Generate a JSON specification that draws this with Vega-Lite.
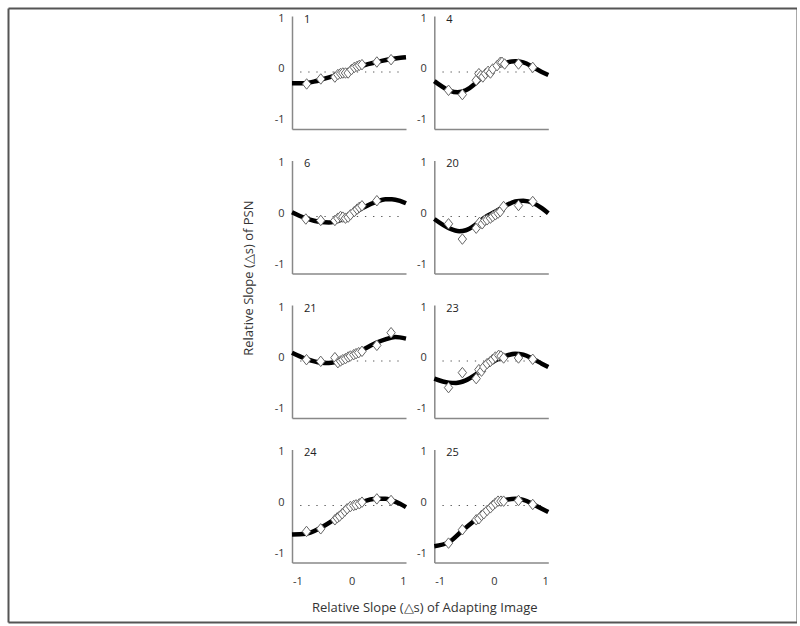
{
  "$schema": "https://vega.github.io/schema/vega-lite/v6.json",
  "padding": {"left": 5, "top": 5, "right": 0, "bottom": 0},
  "background": "white",
  "config": {
    "view": {"stroke": null},
    "font": "Open Sans",
    "axis": {"grid": false, "ticks": false, "domainColor": "#888", "domainWidth": 1.5, "labelFont": "Open Sans", "labelFontSize": 11, "labelColor": "#333", "labelExpr": "toString(datum.value)"},
    "axisX": {"labelPadding": 13},
    "axisY": {"labelPadding": 8, "labelOffset": -3},
    "title": {"font": "Open Sans", "fontSize": 13, "fontWeight": "normal", "color": "#333"}
  },
  "bounds": "flush",
  "spacing": 283,
  "hconcat": [
    {
      "width": 1, "height": 1,
      "data": {"values": [{}]},
      "layer": [
        {"mark": {"type": "point", "opacity": 0}, "encoding": {
          "x": {"datum": 0, "type": "quantitative", "scale": {"domain": [0, 1], "range": [0, 789]}, "axis": {"orient": "bottom", "offset": 613, "labels": false, "ticks": false, "title": null, "domainColor": "#555", "domainWidth": 2}},
          "y": {"datum": 0, "type": "quantitative", "scale": {"domain": [0, 1], "range": [614, 0]}, "axis": {"orient": "left", "offset": 0, "labels": false, "ticks": false, "title": null, "domainColor": "#555", "domainWidth": 2}}}},
        {"mark": {"type": "point", "opacity": 0}, "encoding": {
          "x": {"datum": 0, "type": "quantitative", "scale": {"domain": [0, 1], "range": [0, 789]}, "axis": {"orient": "top", "offset": 0, "labels": false, "ticks": false, "title": null, "domainColor": "#555", "domainWidth": 2}},
          "y": {"datum": 0, "type": "quantitative", "scale": {"domain": [0, 1], "range": [614, 0]}, "axis": {"orient": "right", "offset": 788, "labels": false, "ticks": false, "title": null, "domainColor": "#555", "domainWidth": 2}}}}
      ],
      "resolve": {"scale": {"x": "independent", "y": "independent"}, "axis": {"x": "independent", "y": "independent"}}
    },
    {
      "title": {"text": "Relative Slope (△s) of PSN", "orient": "left", "anchor": "middle", "offset": 18, "dx": 32},
      "spacing": 0,
      "vconcat": [
        {"width": 1, "height": 1, "data": {"values": [{}]}, "mark": {"type": "point", "opacity": 0}, "encoding": {}},
        {
          "data": {"values": [
            {"p":1,"t":"l"},{"p":4,"t":"l"},{"p":6,"t":"l"},{"p":20,"t":"l"},{"p":21,"t":"l"},{"p":23,"t":"l"},{"p":24,"t":"l"},{"p":25,"t":"l"},
            {"p":1,"t":"c","x":-1.1,"y":-0.22},{"p":1,"t":"c","x":-0.9,"y":-0.22},{"p":1,"t":"c","x":-0.7,"y":-0.19},{"p":1,"t":"c","x":-0.5,"y":-0.13},{"p":1,"t":"c","x":-0.3,"y":-0.065},{"p":1,"t":"c","x":-0.1,"y":0.015},{"p":1,"t":"c","x":0.1,"y":0.09},{"p":1,"t":"c","x":0.3,"y":0.155},{"p":1,"t":"c","x":0.5,"y":0.205},{"p":1,"t":"c","x":0.7,"y":0.25},{"p":1,"t":"c","x":0.9,"y":0.28},{"p":1,"t":"c","x":1.0,"y":0.29},
            {"p":4,"t":"c","x":-1.1,"y":-0.18},{"p":4,"t":"c","x":-0.83,"y":-0.36},{"p":4,"t":"c","x":-0.67,"y":-0.4},{"p":4,"t":"c","x":-0.52,"y":-0.36},{"p":4,"t":"c","x":-0.34,"y":-0.22},{"p":4,"t":"c","x":-0.16,"y":-0.03},{"p":4,"t":"c","x":0.03,"y":0.09},{"p":4,"t":"c","x":0.21,"y":0.18},{"p":4,"t":"c","x":0.39,"y":0.21},{"p":4,"t":"c","x":0.54,"y":0.19},{"p":4,"t":"c","x":0.73,"y":0.09},{"p":4,"t":"c","x":0.88,"y":0.0},{"p":4,"t":"c","x":1.0,"y":-0.06},
            {"p":6,"t":"c","x":-1.1,"y":0.085},{"p":6,"t":"c","x":-0.85,"y":-0.033},{"p":6,"t":"c","x":-0.57,"y":-0.11},{"p":6,"t":"c","x":-0.42,"y":-0.118},{"p":6,"t":"c","x":-0.3,"y":-0.098},{"p":6,"t":"c","x":-0.05,"y":0.0},{"p":6,"t":"c","x":0.19,"y":0.163},{"p":6,"t":"c","x":0.46,"y":0.294},{"p":6,"t":"c","x":0.62,"y":0.34},{"p":6,"t":"c","x":0.74,"y":0.34},{"p":6,"t":"c","x":0.89,"y":0.307},{"p":6,"t":"c","x":1.0,"y":0.26},
            {"p":20,"t":"c","x":-1.1,"y":-0.05},{"p":20,"t":"c","x":-0.83,"y":-0.23},{"p":20,"t":"c","x":-0.64,"y":-0.29},{"p":20,"t":"c","x":-0.52,"y":-0.27},{"p":20,"t":"c","x":-0.34,"y":-0.16},{"p":20,"t":"c","x":-0.16,"y":-0.013},{"p":20,"t":"c","x":0.03,"y":0.098},{"p":20,"t":"c","x":0.21,"y":0.21},{"p":20,"t":"c","x":0.39,"y":0.294},{"p":20,"t":"c","x":0.54,"y":0.31},{"p":20,"t":"c","x":0.73,"y":0.26},{"p":20,"t":"c","x":0.88,"y":0.163},{"p":20,"t":"c","x":1.0,"y":0.065},
            {"p":21,"t":"c","x":-1.1,"y":0.163},{"p":21,"t":"c","x":-0.85,"y":0.046},{"p":21,"t":"c","x":-0.57,"y":-0.033},{"p":21,"t":"c","x":-0.42,"y":-0.04},{"p":21,"t":"c","x":-0.3,"y":-0.02},{"p":21,"t":"c","x":-0.05,"y":0.059},{"p":21,"t":"c","x":0.19,"y":0.21},{"p":21,"t":"c","x":0.46,"y":0.36},{"p":21,"t":"c","x":0.62,"y":0.425},{"p":21,"t":"c","x":0.8,"y":0.47},{"p":21,"t":"c","x":1.0,"y":0.44},
            {"p":23,"t":"c","x":-1.1,"y":-0.346},{"p":23,"t":"c","x":-0.83,"y":-0.425},{"p":23,"t":"c","x":-0.7,"y":-0.43},{"p":23,"t":"c","x":-0.52,"y":-0.38},{"p":23,"t":"c","x":-0.34,"y":-0.268},{"p":23,"t":"c","x":-0.16,"y":-0.118},{"p":23,"t":"c","x":0.03,"y":0.013},{"p":23,"t":"c","x":0.21,"y":0.098},{"p":23,"t":"c","x":0.39,"y":0.144},{"p":23,"t":"c","x":0.54,"y":0.124},{"p":23,"t":"c","x":0.73,"y":0.033},{"p":23,"t":"c","x":0.88,"y":-0.052},{"p":23,"t":"c","x":1.0,"y":-0.118},
            {"p":24,"t":"c","x":-1.1,"y":-0.569},{"p":24,"t":"c","x":-0.85,"y":-0.556},{"p":24,"t":"c","x":-0.57,"y":-0.438},{"p":24,"t":"c","x":-0.3,"y":-0.26},{"p":24,"t":"c","x":-0.05,"y":-0.06},{"p":24,"t":"c","x":0.19,"y":0.065},{"p":24,"t":"c","x":0.46,"y":0.13},{"p":24,"t":"c","x":0.62,"y":0.13},{"p":24,"t":"c","x":0.74,"y":0.098},{"p":24,"t":"c","x":0.89,"y":0.033},{"p":24,"t":"c","x":1.0,"y":-0.033},
            {"p":25,"t":"c","x":-1.1,"y":-0.8},{"p":25,"t":"c","x":-0.83,"y":-0.72},{"p":25,"t":"c","x":-0.58,"y":-0.49},{"p":25,"t":"c","x":-0.34,"y":-0.28},{"p":25,"t":"c","x":-0.16,"y":-0.13},{"p":25,"t":"c","x":0.03,"y":0.02},{"p":25,"t":"c","x":0.21,"y":0.11},{"p":25,"t":"c","x":0.39,"y":0.13},{"p":25,"t":"c","x":0.54,"y":0.11},{"p":25,"t":"c","x":0.73,"y":0.02},{"p":25,"t":"c","x":0.88,"y":-0.065},{"p":25,"t":"c","x":1.0,"y":-0.13},
            {"p":1,"t":"s","x":-0.83,"y":-0.235},{"p":1,"t":"s","x":-0.57,"y":-0.137},{"p":1,"t":"s","x":-0.31,"y":-0.1},{"p":1,"t":"s","x":-0.255,"y":-0.05},{"p":1,"t":"s","x":-0.206,"y":-0.03},{"p":1,"t":"s","x":-0.164,"y":-0.02},{"p":1,"t":"s","x":-0.115,"y":-0.02},{"p":1,"t":"s","x":-0.066,"y":-0.02},{"p":1,"t":"s","x":-0.005,"y":0.046},{"p":1,"t":"s","x":0.049,"y":0.09},{"p":1,"t":"s","x":0.098,"y":0.11},{"p":1,"t":"s","x":0.14,"y":0.13},{"p":1,"t":"s","x":0.189,"y":0.144},{"p":1,"t":"s","x":0.463,"y":0.196},{"p":1,"t":"s","x":0.725,"y":0.242},
            {"p":4,"t":"s","x":-0.838,"y":-0.36},{"p":4,"t":"s","x":-0.583,"y":-0.444},{"p":4,"t":"s","x":-0.328,"y":-0.163},{"p":4,"t":"s","x":-0.279,"y":-0.033},{"p":4,"t":"s","x":-0.243,"y":-0.07},{"p":4,"t":"s","x":-0.206,"y":-0.098},{"p":4,"t":"s","x":-0.157,"y":-0.033},{"p":4,"t":"s","x":-0.109,"y":0.013},{"p":4,"t":"s","x":-0.066,"y":-0.02},{"p":4,"t":"s","x":-0.024,"y":0.059},{"p":4,"t":"s","x":0.056,"y":0.124},{"p":4,"t":"s","x":0.116,"y":0.19},{"p":4,"t":"s","x":0.147,"y":0.19},{"p":4,"t":"s","x":0.196,"y":0.157},{"p":4,"t":"s","x":0.451,"y":0.157},{"p":4,"t":"s","x":0.713,"y":0.09},
            {"p":6,"t":"s","x":-0.845,"y":-0.05},{"p":6,"t":"s","x":-0.571,"y":-0.078},{"p":6,"t":"s","x":-0.31,"y":-0.078},{"p":6,"t":"s","x":-0.255,"y":-0.033},{"p":6,"t":"s","x":-0.206,"y":0.0},{"p":6,"t":"s","x":-0.164,"y":-0.013},{"p":6,"t":"s","x":-0.115,"y":-0.033},{"p":6,"t":"s","x":-0.066,"y":-0.013},{"p":6,"t":"s","x":-0.024,"y":0.033},{"p":6,"t":"s","x":0.049,"y":0.098},{"p":6,"t":"s","x":0.098,"y":0.144},{"p":6,"t":"s","x":0.14,"y":0.18},{"p":6,"t":"s","x":0.189,"y":0.21},{"p":6,"t":"s","x":0.463,"y":0.31},
            {"p":20,"t":"s","x":-0.838,"y":-0.144},{"p":20,"t":"s","x":-0.583,"y":-0.444},{"p":20,"t":"s","x":-0.328,"y":-0.23},{"p":20,"t":"s","x":-0.267,"y":-0.118},{"p":20,"t":"s","x":-0.218,"y":-0.144},{"p":20,"t":"s","x":-0.17,"y":-0.078},{"p":20,"t":"s","x":-0.127,"y":-0.065},{"p":20,"t":"s","x":-0.066,"y":-0.033},{"p":20,"t":"s","x":-0.024,"y":0.0},{"p":20,"t":"s","x":0.025,"y":0.033},{"p":20,"t":"s","x":0.074,"y":0.065},{"p":20,"t":"s","x":0.116,"y":0.098},{"p":20,"t":"s","x":0.177,"y":0.196},{"p":20,"t":"s","x":0.451,"y":0.216},{"p":20,"t":"s","x":0.713,"y":0.294},
            {"p":21,"t":"s","x":-0.833,"y":0.026},{"p":21,"t":"s","x":-0.571,"y":-0.007},{"p":21,"t":"s","x":-0.31,"y":0.065},{"p":21,"t":"s","x":-0.255,"y":-0.033},{"p":21,"t":"s","x":-0.206,"y":0.0},{"p":21,"t":"s","x":-0.164,"y":0.026},{"p":21,"t":"s","x":-0.115,"y":0.046},{"p":21,"t":"s","x":-0.066,"y":0.078},{"p":21,"t":"s","x":-0.024,"y":0.098},{"p":21,"t":"s","x":0.037,"y":0.124},{"p":21,"t":"s","x":0.08,"y":0.144},{"p":21,"t":"s","x":0.128,"y":0.163},{"p":21,"t":"s","x":0.189,"y":0.19},{"p":21,"t":"s","x":0.463,"y":0.307},{"p":21,"t":"s","x":0.725,"y":0.556},
            {"p":23,"t":"s","x":-0.838,"y":-0.523},{"p":23,"t":"s","x":-0.583,"y":-0.229},{"p":23,"t":"s","x":-0.328,"y":-0.346},{"p":23,"t":"s","x":-0.279,"y":-0.17},{"p":23,"t":"s","x":-0.23,"y":-0.2},{"p":23,"t":"s","x":-0.188,"y":-0.118},{"p":23,"t":"s","x":-0.127,"y":-0.052},{"p":23,"t":"s","x":-0.066,"y":-0.007},{"p":23,"t":"s","x":-0.024,"y":0.033},{"p":23,"t":"s","x":0.025,"y":0.078},{"p":23,"t":"s","x":0.086,"y":0.111},{"p":23,"t":"s","x":0.128,"y":0.098},{"p":23,"t":"s","x":0.177,"y":0.059},{"p":23,"t":"s","x":0.451,"y":0.059},{"p":23,"t":"s","x":0.713,"y":0.033},
            {"p":24,"t":"s","x":-0.833,"y":-0.51},{"p":24,"t":"s","x":-0.571,"y":-0.458},{"p":24,"t":"s","x":-0.31,"y":-0.281},{"p":24,"t":"s","x":-0.267,"y":-0.242},{"p":24,"t":"s","x":-0.224,"y":-0.209},{"p":24,"t":"s","x":-0.176,"y":-0.163},{"p":24,"t":"s","x":-0.127,"y":-0.111},{"p":24,"t":"s","x":-0.085,"y":-0.065},{"p":24,"t":"s","x":-0.024,"y":-0.02},{"p":24,"t":"s","x":0.037,"y":0.0},{"p":24,"t":"s","x":0.08,"y":0.013},{"p":24,"t":"s","x":0.14,"y":0.033},{"p":24,"t":"s","x":0.189,"y":0.065},{"p":24,"t":"s","x":0.463,"y":0.13},{"p":24,"t":"s","x":0.725,"y":0.098},
            {"p":25,"t":"s","x":-0.838,"y":-0.739},{"p":25,"t":"s","x":-0.583,"y":-0.477},{"p":25,"t":"s","x":-0.328,"y":-0.281},{"p":25,"t":"s","x":-0.279,"y":-0.261},{"p":25,"t":"s","x":-0.23,"y":-0.196},{"p":25,"t":"s","x":-0.188,"y":-0.163},{"p":25,"t":"s","x":-0.127,"y":-0.098},{"p":25,"t":"s","x":-0.066,"y":-0.046},{"p":25,"t":"s","x":-0.024,"y":0.0},{"p":25,"t":"s","x":0.025,"y":0.046},{"p":25,"t":"s","x":0.074,"y":0.085},{"p":25,"t":"s","x":0.128,"y":0.085},{"p":25,"t":"s","x":0.177,"y":0.085},{"p":25,"t":"s","x":0.451,"y":0.098},{"p":25,"t":"s","x":0.713,"y":0.02}
          ]},
          "columns": 2,
          "bounds": "flush",
          "spacing": {"row": 31.5, "column": 28.3},
          "title": {"text": "Relative Slope (△s) of Adapting Image", "orient": "bottom", "anchor": "middle", "offset": 15, "dx": 9},
          "concat": [
            {"width": 114, "height": 113, "transform": [{"filter": "datum.p == 1"}], "layer": [
              {"transform": [{"filter": "datum.t == 'l'"}], "mark": {"type": "rule", "color": "#555", "strokeDash": [1.3, 6.8], "strokeWidth": 1.2}, "encoding": {"x": {"datum": -0.95, "type": "quantitative", "scale": {"domain": [-1.1, 1.0], "nice": false, "zero": false}, "axis": {"values": [-1, 0, 1], "title": null, "labels": false}}, "x2": {"datum": 0.89}, "y": {"datum": 0, "type": "quantitative", "scale": {"domain": [-1.12, 1.1], "nice": false, "zero": false}, "axis": {"values": [-1, 0, 1], "title": null}}}},
              {"transform": [{"filter": "datum.t == 'c'"}], "mark": {"type": "line", "color": "black", "strokeWidth": 4.5, "interpolate": "monotone"}, "encoding": {"x": {"field": "x", "type": "quantitative", "scale": {"domain": [-1.1, 1.0], "nice": false, "zero": false}, "axis": {"values": [-1, 0, 1], "title": null, "labels": false}}, "y": {"field": "y", "type": "quantitative", "scale": {"domain": [-1.12, 1.1], "nice": false, "zero": false}, "axis": {"values": [-1, 0, 1], "title": null}}}},
              {"transform": [{"filter": "datum.t == 's'"}], "mark": {"type": "point", "shape": "M0,-1L0.8,0L0,1L-0.8,0Z", "size": 110, "filled": true, "fill": "white", "stroke": "#666", "strokeWidth": 1, "opacity": 1}, "encoding": {"x": {"field": "x", "type": "quantitative", "scale": {"domain": [-1.1, 1.0], "nice": false, "zero": false}, "axis": {"values": [-1, 0, 1], "title": null, "labels": false}}, "y": {"field": "y", "type": "quantitative", "scale": {"domain": [-1.12, 1.1], "nice": false, "zero": false}, "axis": {"values": [-1, 0, 1], "title": null}}}},
              {"transform": [{"filter": "datum.t == 'l'"}], "mark": {"type": "text", "align": "left", "baseline": "middle", "fontSize": 11, "color": "#222", "font": "Open Sans"}, "encoding": {"x": {"datum": -0.88, "type": "quantitative", "scale": {"domain": [-1.1, 1.0], "nice": false, "zero": false}, "axis": {"values": [-1, 0, 1], "title": null, "labels": false}}, "y": {"datum": 1.03, "type": "quantitative", "scale": {"domain": [-1.12, 1.1], "nice": false, "zero": false}, "axis": {"values": [-1, 0, 1], "title": null}}, "text": {"field": "p"}}}
            ]},
            {"width": 114, "height": 113, "transform": [{"filter": "datum.p == 4"}], "layer": [
              {"transform": [{"filter": "datum.t == 'l'"}], "mark": {"type": "rule", "color": "#555", "strokeDash": [1.3, 6.8], "strokeWidth": 1.2}, "encoding": {"x": {"datum": -0.95, "type": "quantitative", "scale": {"domain": [-1.1, 1.0], "nice": false, "zero": false}, "axis": {"values": [-1, 0, 1], "title": null, "labels": false}}, "x2": {"datum": 0.89}, "y": {"datum": 0, "type": "quantitative", "scale": {"domain": [-1.12, 1.1], "nice": false, "zero": false}, "axis": {"values": [-1, 0, 1], "title": null}}}},
              {"transform": [{"filter": "datum.t == 'c'"}], "mark": {"type": "line", "color": "black", "strokeWidth": 4.5, "interpolate": "monotone"}, "encoding": {"x": {"field": "x", "type": "quantitative", "scale": {"domain": [-1.1, 1.0], "nice": false, "zero": false}, "axis": {"values": [-1, 0, 1], "title": null, "labels": false}}, "y": {"field": "y", "type": "quantitative", "scale": {"domain": [-1.12, 1.1], "nice": false, "zero": false}, "axis": {"values": [-1, 0, 1], "title": null}}}},
              {"transform": [{"filter": "datum.t == 's'"}], "mark": {"type": "point", "shape": "M0,-1L0.8,0L0,1L-0.8,0Z", "size": 110, "filled": true, "fill": "white", "stroke": "#666", "strokeWidth": 1, "opacity": 1}, "encoding": {"x": {"field": "x", "type": "quantitative", "scale": {"domain": [-1.1, 1.0], "nice": false, "zero": false}, "axis": {"values": [-1, 0, 1], "title": null, "labels": false}}, "y": {"field": "y", "type": "quantitative", "scale": {"domain": [-1.12, 1.1], "nice": false, "zero": false}, "axis": {"values": [-1, 0, 1], "title": null}}}},
              {"transform": [{"filter": "datum.t == 'l'"}], "mark": {"type": "text", "align": "left", "baseline": "middle", "fontSize": 11, "color": "#222", "font": "Open Sans"}, "encoding": {"x": {"datum": -0.88, "type": "quantitative", "scale": {"domain": [-1.1, 1.0], "nice": false, "zero": false}, "axis": {"values": [-1, 0, 1], "title": null, "labels": false}}, "y": {"datum": 1.03, "type": "quantitative", "scale": {"domain": [-1.12, 1.1], "nice": false, "zero": false}, "axis": {"values": [-1, 0, 1], "title": null}}, "text": {"field": "p"}}}
            ]},
            {"width": 114, "height": 113, "transform": [{"filter": "datum.p == 6"}], "layer": [
              {"transform": [{"filter": "datum.t == 'l'"}], "mark": {"type": "rule", "color": "#555", "strokeDash": [1.3, 6.8], "strokeWidth": 1.2}, "encoding": {"x": {"datum": -0.95, "type": "quantitative", "scale": {"domain": [-1.1, 1.0], "nice": false, "zero": false}, "axis": {"values": [-1, 0, 1], "title": null, "labels": false}}, "x2": {"datum": 0.89}, "y": {"datum": 0, "type": "quantitative", "scale": {"domain": [-1.12, 1.1], "nice": false, "zero": false}, "axis": {"values": [-1, 0, 1], "title": null}}}},
              {"transform": [{"filter": "datum.t == 'c'"}], "mark": {"type": "line", "color": "black", "strokeWidth": 4.5, "interpolate": "monotone"}, "encoding": {"x": {"field": "x", "type": "quantitative", "scale": {"domain": [-1.1, 1.0], "nice": false, "zero": false}, "axis": {"values": [-1, 0, 1], "title": null, "labels": false}}, "y": {"field": "y", "type": "quantitative", "scale": {"domain": [-1.12, 1.1], "nice": false, "zero": false}, "axis": {"values": [-1, 0, 1], "title": null}}}},
              {"transform": [{"filter": "datum.t == 's'"}], "mark": {"type": "point", "shape": "M0,-1L0.8,0L0,1L-0.8,0Z", "size": 110, "filled": true, "fill": "white", "stroke": "#666", "strokeWidth": 1, "opacity": 1}, "encoding": {"x": {"field": "x", "type": "quantitative", "scale": {"domain": [-1.1, 1.0], "nice": false, "zero": false}, "axis": {"values": [-1, 0, 1], "title": null, "labels": false}}, "y": {"field": "y", "type": "quantitative", "scale": {"domain": [-1.12, 1.1], "nice": false, "zero": false}, "axis": {"values": [-1, 0, 1], "title": null}}}},
              {"transform": [{"filter": "datum.t == 'l'"}], "mark": {"type": "text", "align": "left", "baseline": "middle", "fontSize": 11, "color": "#222", "font": "Open Sans"}, "encoding": {"x": {"datum": -0.88, "type": "quantitative", "scale": {"domain": [-1.1, 1.0], "nice": false, "zero": false}, "axis": {"values": [-1, 0, 1], "title": null, "labels": false}}, "y": {"datum": 1.03, "type": "quantitative", "scale": {"domain": [-1.12, 1.1], "nice": false, "zero": false}, "axis": {"values": [-1, 0, 1], "title": null}}, "text": {"field": "p"}}}
            ]},
            {"width": 114, "height": 113, "transform": [{"filter": "datum.p == 20"}], "layer": [
              {"transform": [{"filter": "datum.t == 'l'"}], "mark": {"type": "rule", "color": "#555", "strokeDash": [1.3, 6.8], "strokeWidth": 1.2}, "encoding": {"x": {"datum": -0.95, "type": "quantitative", "scale": {"domain": [-1.1, 1.0], "nice": false, "zero": false}, "axis": {"values": [-1, 0, 1], "title": null, "labels": false}}, "x2": {"datum": 0.89}, "y": {"datum": 0, "type": "quantitative", "scale": {"domain": [-1.12, 1.1], "nice": false, "zero": false}, "axis": {"values": [-1, 0, 1], "title": null}}}},
              {"transform": [{"filter": "datum.t == 'c'"}], "mark": {"type": "line", "color": "black", "strokeWidth": 4.5, "interpolate": "monotone"}, "encoding": {"x": {"field": "x", "type": "quantitative", "scale": {"domain": [-1.1, 1.0], "nice": false, "zero": false}, "axis": {"values": [-1, 0, 1], "title": null, "labels": false}}, "y": {"field": "y", "type": "quantitative", "scale": {"domain": [-1.12, 1.1], "nice": false, "zero": false}, "axis": {"values": [-1, 0, 1], "title": null}}}},
              {"transform": [{"filter": "datum.t == 's'"}], "mark": {"type": "point", "shape": "M0,-1L0.8,0L0,1L-0.8,0Z", "size": 110, "filled": true, "fill": "white", "stroke": "#666", "strokeWidth": 1, "opacity": 1}, "encoding": {"x": {"field": "x", "type": "quantitative", "scale": {"domain": [-1.1, 1.0], "nice": false, "zero": false}, "axis": {"values": [-1, 0, 1], "title": null, "labels": false}}, "y": {"field": "y", "type": "quantitative", "scale": {"domain": [-1.12, 1.1], "nice": false, "zero": false}, "axis": {"values": [-1, 0, 1], "title": null}}}},
              {"transform": [{"filter": "datum.t == 'l'"}], "mark": {"type": "text", "align": "left", "baseline": "middle", "fontSize": 11, "color": "#222", "font": "Open Sans"}, "encoding": {"x": {"datum": -0.88, "type": "quantitative", "scale": {"domain": [-1.1, 1.0], "nice": false, "zero": false}, "axis": {"values": [-1, 0, 1], "title": null, "labels": false}}, "y": {"datum": 1.03, "type": "quantitative", "scale": {"domain": [-1.12, 1.1], "nice": false, "zero": false}, "axis": {"values": [-1, 0, 1], "title": null}}, "text": {"field": "p"}}}
            ]},
            {"width": 114, "height": 113, "transform": [{"filter": "datum.p == 21"}], "layer": [
              {"transform": [{"filter": "datum.t == 'l'"}], "mark": {"type": "rule", "color": "#555", "strokeDash": [1.3, 6.8], "strokeWidth": 1.2}, "encoding": {"x": {"datum": -0.95, "type": "quantitative", "scale": {"domain": [-1.1, 1.0], "nice": false, "zero": false}, "axis": {"values": [-1, 0, 1], "title": null, "labels": false}}, "x2": {"datum": 0.89}, "y": {"datum": 0, "type": "quantitative", "scale": {"domain": [-1.12, 1.1], "nice": false, "zero": false}, "axis": {"values": [-1, 0, 1], "title": null}}}},
              {"transform": [{"filter": "datum.t == 'c'"}], "mark": {"type": "line", "color": "black", "strokeWidth": 4.5, "interpolate": "monotone"}, "encoding": {"x": {"field": "x", "type": "quantitative", "scale": {"domain": [-1.1, 1.0], "nice": false, "zero": false}, "axis": {"values": [-1, 0, 1], "title": null, "labels": false}}, "y": {"field": "y", "type": "quantitative", "scale": {"domain": [-1.12, 1.1], "nice": false, "zero": false}, "axis": {"values": [-1, 0, 1], "title": null}}}},
              {"transform": [{"filter": "datum.t == 's'"}], "mark": {"type": "point", "shape": "M0,-1L0.8,0L0,1L-0.8,0Z", "size": 110, "filled": true, "fill": "white", "stroke": "#666", "strokeWidth": 1, "opacity": 1}, "encoding": {"x": {"field": "x", "type": "quantitative", "scale": {"domain": [-1.1, 1.0], "nice": false, "zero": false}, "axis": {"values": [-1, 0, 1], "title": null, "labels": false}}, "y": {"field": "y", "type": "quantitative", "scale": {"domain": [-1.12, 1.1], "nice": false, "zero": false}, "axis": {"values": [-1, 0, 1], "title": null}}}},
              {"transform": [{"filter": "datum.t == 'l'"}], "mark": {"type": "text", "align": "left", "baseline": "middle", "fontSize": 11, "color": "#222", "font": "Open Sans"}, "encoding": {"x": {"datum": -0.88, "type": "quantitative", "scale": {"domain": [-1.1, 1.0], "nice": false, "zero": false}, "axis": {"values": [-1, 0, 1], "title": null, "labels": false}}, "y": {"datum": 1.03, "type": "quantitative", "scale": {"domain": [-1.12, 1.1], "nice": false, "zero": false}, "axis": {"values": [-1, 0, 1], "title": null}}, "text": {"field": "p"}}}
            ]},
            {"width": 114, "height": 113, "transform": [{"filter": "datum.p == 23"}], "layer": [
              {"transform": [{"filter": "datum.t == 'l'"}], "mark": {"type": "rule", "color": "#555", "strokeDash": [1.3, 6.8], "strokeWidth": 1.2}, "encoding": {"x": {"datum": -0.95, "type": "quantitative", "scale": {"domain": [-1.1, 1.0], "nice": false, "zero": false}, "axis": {"values": [-1, 0, 1], "title": null, "labels": false}}, "x2": {"datum": 0.89}, "y": {"datum": 0, "type": "quantitative", "scale": {"domain": [-1.12, 1.1], "nice": false, "zero": false}, "axis": {"values": [-1, 0, 1], "title": null}}}},
              {"transform": [{"filter": "datum.t == 'c'"}], "mark": {"type": "line", "color": "black", "strokeWidth": 4.5, "interpolate": "monotone"}, "encoding": {"x": {"field": "x", "type": "quantitative", "scale": {"domain": [-1.1, 1.0], "nice": false, "zero": false}, "axis": {"values": [-1, 0, 1], "title": null, "labels": false}}, "y": {"field": "y", "type": "quantitative", "scale": {"domain": [-1.12, 1.1], "nice": false, "zero": false}, "axis": {"values": [-1, 0, 1], "title": null}}}},
              {"transform": [{"filter": "datum.t == 's'"}], "mark": {"type": "point", "shape": "M0,-1L0.8,0L0,1L-0.8,0Z", "size": 110, "filled": true, "fill": "white", "stroke": "#666", "strokeWidth": 1, "opacity": 1}, "encoding": {"x": {"field": "x", "type": "quantitative", "scale": {"domain": [-1.1, 1.0], "nice": false, "zero": false}, "axis": {"values": [-1, 0, 1], "title": null, "labels": false}}, "y": {"field": "y", "type": "quantitative", "scale": {"domain": [-1.12, 1.1], "nice": false, "zero": false}, "axis": {"values": [-1, 0, 1], "title": null}}}},
              {"transform": [{"filter": "datum.t == 'l'"}], "mark": {"type": "text", "align": "left", "baseline": "middle", "fontSize": 11, "color": "#222", "font": "Open Sans"}, "encoding": {"x": {"datum": -0.88, "type": "quantitative", "scale": {"domain": [-1.1, 1.0], "nice": false, "zero": false}, "axis": {"values": [-1, 0, 1], "title": null, "labels": false}}, "y": {"datum": 1.03, "type": "quantitative", "scale": {"domain": [-1.12, 1.1], "nice": false, "zero": false}, "axis": {"values": [-1, 0, 1], "title": null}}, "text": {"field": "p"}}}
            ]},
            {"width": 114, "height": 113, "transform": [{"filter": "datum.p == 24"}], "layer": [
              {"transform": [{"filter": "datum.t == 'l'"}], "mark": {"type": "rule", "color": "#555", "strokeDash": [1.3, 6.8], "strokeWidth": 1.2}, "encoding": {"x": {"datum": -0.95, "type": "quantitative", "scale": {"domain": [-1.1, 1.0], "nice": false, "zero": false}, "axis": {"values": [-1, 0, 1], "title": null}}, "x2": {"datum": 0.89}, "y": {"datum": 0, "type": "quantitative", "scale": {"domain": [-1.12, 1.1], "nice": false, "zero": false}, "axis": {"values": [-1, 0, 1], "title": null}}}},
              {"transform": [{"filter": "datum.t == 'c'"}], "mark": {"type": "line", "color": "black", "strokeWidth": 4.5, "interpolate": "monotone"}, "encoding": {"x": {"field": "x", "type": "quantitative", "scale": {"domain": [-1.1, 1.0], "nice": false, "zero": false}, "axis": {"values": [-1, 0, 1], "title": null}}, "y": {"field": "y", "type": "quantitative", "scale": {"domain": [-1.12, 1.1], "nice": false, "zero": false}, "axis": {"values": [-1, 0, 1], "title": null}}}},
              {"transform": [{"filter": "datum.t == 's'"}], "mark": {"type": "point", "shape": "M0,-1L0.8,0L0,1L-0.8,0Z", "size": 110, "filled": true, "fill": "white", "stroke": "#666", "strokeWidth": 1, "opacity": 1}, "encoding": {"x": {"field": "x", "type": "quantitative", "scale": {"domain": [-1.1, 1.0], "nice": false, "zero": false}, "axis": {"values": [-1, 0, 1], "title": null}}, "y": {"field": "y", "type": "quantitative", "scale": {"domain": [-1.12, 1.1], "nice": false, "zero": false}, "axis": {"values": [-1, 0, 1], "title": null}}}},
              {"transform": [{"filter": "datum.t == 'l'"}], "mark": {"type": "text", "align": "left", "baseline": "middle", "fontSize": 11, "color": "#222", "font": "Open Sans"}, "encoding": {"x": {"datum": -0.88, "type": "quantitative", "scale": {"domain": [-1.1, 1.0], "nice": false, "zero": false}, "axis": {"values": [-1, 0, 1], "title": null}}, "y": {"datum": 1.03, "type": "quantitative", "scale": {"domain": [-1.12, 1.1], "nice": false, "zero": false}, "axis": {"values": [-1, 0, 1], "title": null}}, "text": {"field": "p"}}}
            ]},
            {"width": 114, "height": 113, "transform": [{"filter": "datum.p == 25"}], "layer": [
              {"transform": [{"filter": "datum.t == 'l'"}], "mark": {"type": "rule", "color": "#555", "strokeDash": [1.3, 6.8], "strokeWidth": 1.2}, "encoding": {"x": {"datum": -0.95, "type": "quantitative", "scale": {"domain": [-1.1, 1.0], "nice": false, "zero": false}, "axis": {"values": [-1, 0, 1], "title": null}}, "x2": {"datum": 0.89}, "y": {"datum": 0, "type": "quantitative", "scale": {"domain": [-1.12, 1.1], "nice": false, "zero": false}, "axis": {"values": [-1, 0, 1], "title": null}}}},
              {"transform": [{"filter": "datum.t == 'c'"}], "mark": {"type": "line", "color": "black", "strokeWidth": 4.5, "interpolate": "monotone"}, "encoding": {"x": {"field": "x", "type": "quantitative", "scale": {"domain": [-1.1, 1.0], "nice": false, "zero": false}, "axis": {"values": [-1, 0, 1], "title": null}}, "y": {"field": "y", "type": "quantitative", "scale": {"domain": [-1.12, 1.1], "nice": false, "zero": false}, "axis": {"values": [-1, 0, 1], "title": null}}}},
              {"transform": [{"filter": "datum.t == 's'"}], "mark": {"type": "point", "shape": "M0,-1L0.8,0L0,1L-0.8,0Z", "size": 110, "filled": true, "fill": "white", "stroke": "#666", "strokeWidth": 1, "opacity": 1}, "encoding": {"x": {"field": "x", "type": "quantitative", "scale": {"domain": [-1.1, 1.0], "nice": false, "zero": false}, "axis": {"values": [-1, 0, 1], "title": null}}, "y": {"field": "y", "type": "quantitative", "scale": {"domain": [-1.12, 1.1], "nice": false, "zero": false}, "axis": {"values": [-1, 0, 1], "title": null}}}},
              {"transform": [{"filter": "datum.t == 'l'"}], "mark": {"type": "text", "align": "left", "baseline": "middle", "fontSize": 11, "color": "#222", "font": "Open Sans"}, "encoding": {"x": {"datum": -0.88, "type": "quantitative", "scale": {"domain": [-1.1, 1.0], "nice": false, "zero": false}, "axis": {"values": [-1, 0, 1], "title": null}}, "y": {"datum": 1.03, "type": "quantitative", "scale": {"domain": [-1.12, 1.1], "nice": false, "zero": false}, "axis": {"values": [-1, 0, 1], "title": null}}, "text": {"field": "p"}}}
            ]}
          ]
        }
      ]
    }
  ]
}
